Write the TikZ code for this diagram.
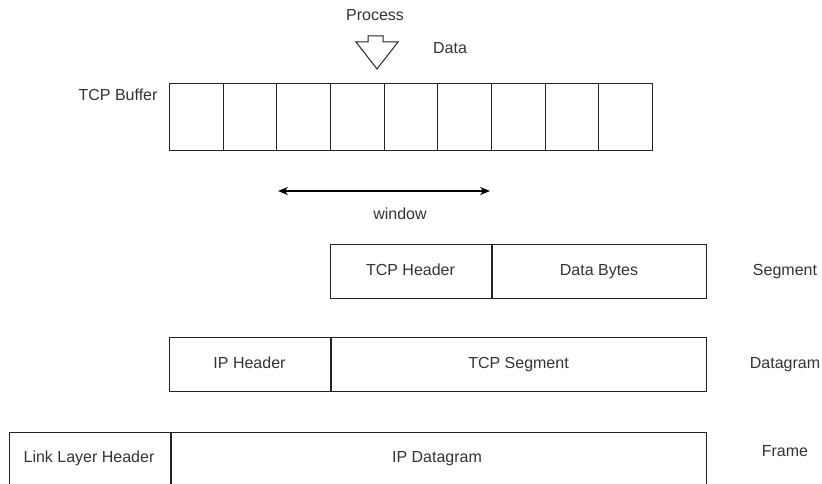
\documentclass[tikz,border=0pt]{standalone}
\usepackage{fontspec}
\setmainfont{Liberation Sans}
\usetikzlibrary{arrows.meta}
\definecolor{ink}{HTML}{333333}
\definecolor{edge}{HTML}{222222}
\tikzset{
  lbl/.style={text=ink, font=\fontsize{16}{19}\selectfont, inner sep=0pt,
              text height=11.5pt, text depth=3.4pt},
  field/.style={draw=edge, line width=1pt, text=ink, font=\fontsize{16}{19}\selectfont,
                inner sep=0pt, minimum height=54pt, text height=11.5pt, text depth=3.4pt},
  cell/.style={draw=edge, line width=1pt, inner sep=0pt,
               minimum width=53.67pt, minimum height=67pt},
  span/.style={line width=1.5pt, {Stealth[length=10pt,width=8pt]}-{Stealth[length=10pt,width=8pt]}},
}
\begin{document}
\begin{tikzpicture}[x=1pt,y=-1pt]
  \useasboundingbox (0,0) rectangle (822,484);
  \clip (0,0) rectangle (822,484);

  % process / data arrow
  \node[lbl] (process) at (375,16) {Process};
  \draw[edge, line width=1pt, line join=miter]
    (368,36) -- (383,36) -- (383,42) -- (398,42) -- (377,69) -- (356,42) -- (368,42) -- cycle;
  \node[lbl] (data) at (450,49) {Data};

  % TCP buffer: nine slots
  \node[lbl] (buflbl) at (118,96) {TCP Buffer};
  \foreach \i in {0,...,8} {
    \node[cell, anchor=north west] (c\i) at ({169+53.67*\i},83) {};
  }

  % sliding window
  \coordinate (wl) at (278,191);
  \coordinate (wr) at (490,191);
  \draw[span] (wl) -- (wr);
  \node[lbl] (window) at (400,215) {window};

  % segment
  \node[field, minimum width=161pt] (tcph) at (410.5,271) {TCP Header};
  \node[field, minimum width=214pt, anchor=west] (bytes) at (tcph.east) {Data Bytes};
  \node[lbl] (seg) at (785,271) {Segment};

  % datagram
  \node[field, minimum width=161pt] (iph) at (249.5,364.5) {IP Header};
  \node[field, minimum width=375pt, anchor=west] (tcpseg) at (iph.east) {TCP Segment};
  \node[lbl] (dgram) at (785,364) {Datagram};

  % frame (runs past the lower edge)
  \node[field, minimum width=161pt, minimum height=90pt, anchor=north west]
    (llh) at (9,432) {};
  \node[lbl] at (89,458) {Link Layer Header};
  \node[field, minimum width=535pt, minimum height=90pt, anchor=north west] (ipd) at (llh.north east) {};
  \node[lbl] at (437,458) {IP Datagram};
  \node[lbl] (frame) at (785,452) {Frame};
\end{tikzpicture}
\end{document}
